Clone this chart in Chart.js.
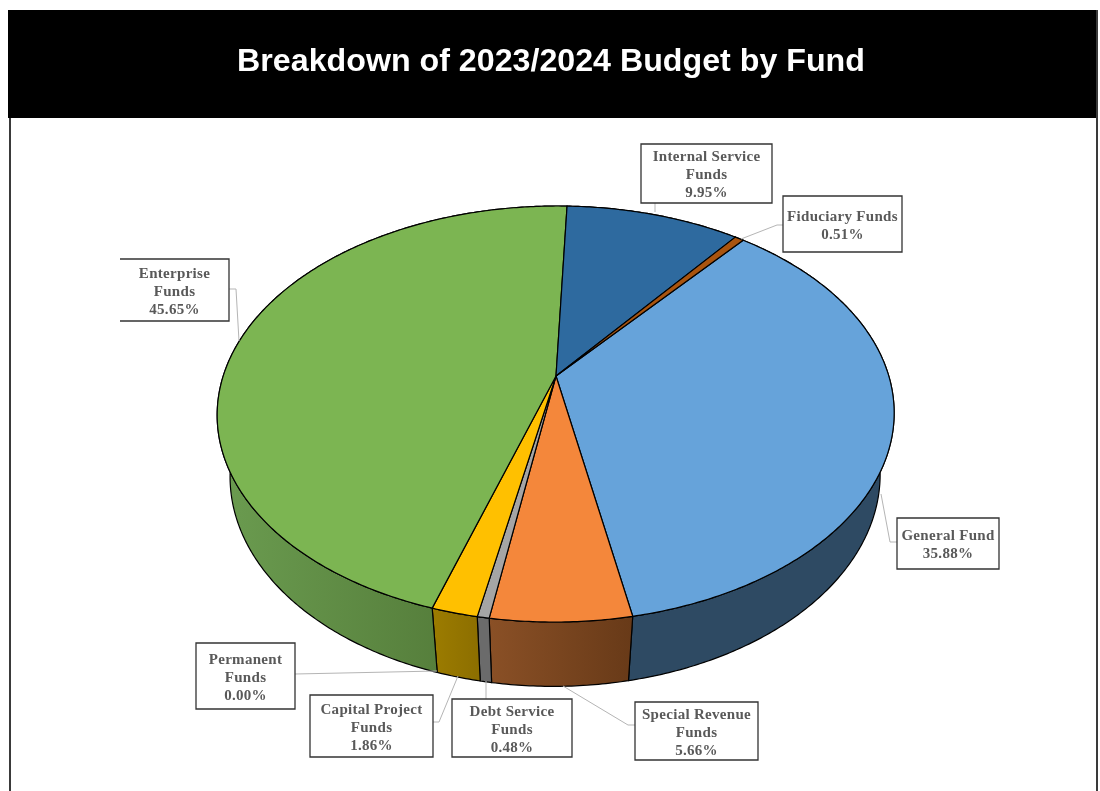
<!DOCTYPE html>
<html>
<head>
<meta charset="utf-8">
<style>
  html, body { margin: 0; padding: 0; background: #fff; overflow: hidden; }
  #wrap { position: relative; width: 1100px; height: 791px; }
</style>
<script src="https://cdn.jsdelivr.net/npm/chart.js@4"></script>
</head>
<body>
<div id="wrap"><canvas id="fundChart" width="1100" height="791"></canvas></div>
<script>
// fund shares in percent, clockwise from the fiduciary/general boundary
const funds = ['General Fund', 'Special Revenue Funds', 'Debt Service Funds', 'Permanent Funds',
  'Capital Project Funds', 'Enterprise Funds', 'Internal Service Funds', 'Fiduciary Funds'];
const shares = [35.88, 5.66, 0.48, 0.00, 1.86, 45.65, 9.95, 0.51];
const labelLines = [['General Fund'], ['Special Revenue', 'Funds'], ['Debt Service', 'Funds'], ['Permanent', 'Funds'],
  ['Capital Project', 'Funds'], ['Enterprise', 'Funds'], ['Internal Service', 'Funds'], ['Fiduciary Funds']];

const topColors = ['#66a3da', '#f4873b', '#a5a5a5', '#7f7f7f', '#ffc000', '#7cb552', '#2e6a9f', '#a9540f'];
const wallLeft = ['#2e4a63', '#8a5026', '#6b6b6b', '#6b6b6b', '#9c7c00', '#6b9c50', '#1c4060', '#6a3408'];
const wallRight = ['#2e4a63', '#683a18', '#6b6b6b', '#6b6b6b', '#8c6e00', '#4a6e30', '#1c4060', '#6a3408'];

// label boxes [x0, y0, x1, y1] and leader lines, same order as funds
const boxes = [[897, 518, 999, 569], [635, 702, 758, 760], [452, 699, 572, 757], [196, 643, 295, 709],
  [310, 695, 433, 757], [120, 259, 229, 321], [641, 144, 772, 203], [783, 196, 902, 252]];
const leaders = [
  [[897, 542], [890, 542], [881, 494]],
  [[635, 725], [628, 725], [563, 686]],
  [[486, 699], [486, 681]],
  [[295, 674], [437, 671]],
  [[433, 722], [439, 722], [458, 676]],
  [[229, 289], [236, 289], [239, 341]],
  [[655, 203], [655, 212]],
  [[783, 225], [777, 225], [741, 239]]
];

// perspective of the tilted disc
const lift = 74.8, shiftX = 5, skew = -0.009, spanY = 201.06, persp = -0.1827, dropW = 0.04, dropY = 65;

function project(el, a, low) {
  const u = Math.cos(a), v = Math.sin(a);
  const w = 1 + persp * v + (low ? dropW : 0);
  const dy = (spanY * v + (low ? dropY : 0)) / w;
  return [el.x + shiftX + el.outerRadius * u / w + skew * dy, el.y - lift + dy];
}

function arcPoints(el, low) {
  const pts = [];
  const n = Math.max(2, Math.ceil((el.endAngle - el.startAngle) / 0.01));
  for (let i = 0; i <= n; i++) pts.push(project(el, el.startAngle + (el.endAngle - el.startAngle) * i / n, low));
  return pts;
}

const disc3d = {
  id: 'disc3d',
  beforeDraw(chart) {
    const c = chart.ctx;
    c.save();
    c.fillStyle = '#fff';
    c.fillRect(0, 0, 1100, 791);
    c.fillStyle = '#3a3a3a';
    c.fillRect(9, 118, 2, 673);
    c.fillRect(1096, 10, 2, 781);
    c.fillStyle = '#000';
    c.fillRect(8, 10, 1088, 108);
    c.restore();
  },
  beforeDatasetDraw(chart) {
    const c = chart.ctx;
    const arcs = chart.getDatasetMeta(0).data;
    c.save();
    c.lineJoin = 'round';
    c.strokeStyle = '#000';
    c.lineWidth = 1.2;
    // walls first, the top face hides the back part of them
    arcs.forEach((el, i) => {
      if (shares[i] === 0) return;
      const top = arcPoints(el, false), low = arcPoints(el, true);
      const xs = top.concat(low).map(p => p[0]);
      const g = c.createLinearGradient(Math.min(...xs), 0, Math.max(...xs), 0);
      g.addColorStop(0, wallLeft[i]);
      g.addColorStop(1, wallRight[i]);
      c.beginPath();
      top.forEach((p, k) => k ? c.lineTo(p[0], p[1]) : c.moveTo(p[0], p[1]));
      low.reverse().forEach(p => c.lineTo(p[0], p[1]));
      c.closePath();
      c.fillStyle = g;
      c.fill();
      c.stroke();
    });
    arcs.forEach((el, i) => {
      if (shares[i] === 0) return;
      c.beginPath();
      c.moveTo(el.x + shiftX, el.y - lift);
      arcPoints(el, false).forEach(p => c.lineTo(p[0], p[1]));
      c.closePath();
      c.fillStyle = chart.data.datasets[0].backgroundColor[i];
      c.fill();
      c.stroke();
    });
    c.restore();
    return false;
  },
  afterDatasetsDraw(chart) {
    const c = chart.ctx;
    c.save();
    c.strokeStyle = '#b5b5b5';
    c.lineWidth = 1;
    leaders.forEach(pts => {
      c.beginPath();
      pts.forEach((p, k) => k ? c.lineTo(p[0], p[1]) : c.moveTo(p[0], p[1]));
      c.stroke();
    });
    boxes.forEach((b, i) => {
      c.fillStyle = '#fff';
      c.fillRect(b[0], b[1], b[2] - b[0], b[3] - b[1]);
      c.strokeStyle = '#333';
      c.lineWidth = 1.3;
      c.beginPath();
      if (funds[i] === 'Enterprise Funds') { // this box has no left edge in the source
        c.moveTo(b[0], b[1]); c.lineTo(b[2], b[1]); c.lineTo(b[2], b[3]); c.lineTo(b[0], b[3]);
      } else {
        c.rect(b[0], b[1], b[2] - b[0], b[3] - b[1]);
      }
      c.stroke();
      const lines = labelLines[i].concat(shares[i].toFixed(2) + '%');
      const mid = (b[0] + b[2]) / 2, cy = (b[1] + b[3]) / 2 + 2;
      c.fillStyle = '#595959';
      c.font = 'bold 15px "Liberation Serif"';
      c.letterSpacing = '0.3px';
      c.textAlign = 'center';
      c.textBaseline = 'middle';
      lines.forEach((t, k) => c.fillText(t, mid, cy + (k - (lines.length - 1) / 2) * 18));
    });
    c.restore();
  }
};

new Chart(document.getElementById('fundChart'), {
  type: 'pie',
  data: {
    labels: funds,
    datasets: [{ data: shares, backgroundColor: topColors, borderWidth: 0 }]
  },
  options: {
    responsive: false,
    animation: false,
    rotation: 39.6,
    layout: { padding: { left: 2, right: 0, top: 0, bottom: 7.4 } },
    plugins: {
      legend: { display: false },
      tooltip: { enabled: false },
      title: {
        display: true,
        text: 'Breakdown of 2023/2024 Budget by Fund',
        color: '#fff',
        font: { family: '"Liberation Sans"', size: 32.2, weight: 'bold', lineHeight: 1.2 },
        padding: { top: 43, bottom: 36.4 }
      }
    }
  },
  plugins: [disc3d]
});
</script>
</body>
</html>
